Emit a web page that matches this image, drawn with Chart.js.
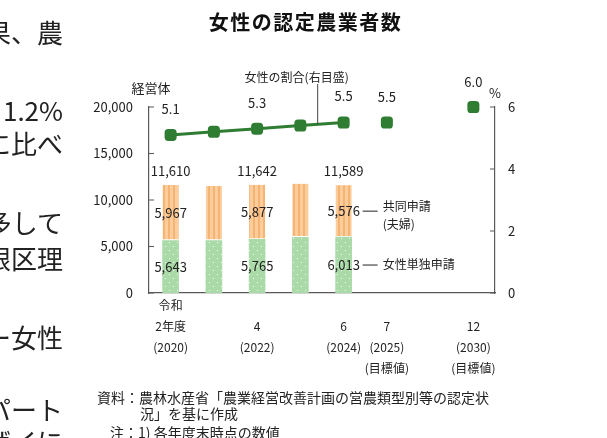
<!DOCTYPE html>
<html lang="ja">
<head>
<meta charset="utf-8">
<title>女性の認定農業者数</title>
<script src="https://cdn.jsdelivr.net/npm/chart.js@4.4.1/dist/chart.umd.min.js"></script>
<style>
  html, body { margin: 0; padding: 0; background: #fff; }
  body { width: 607px; height: 438px; position: relative; overflow: hidden;
         font-family: "Noto Sans CJK JP", "Noto Sans", sans-serif; color: #222; }
  #c { position: absolute; left: 0; top: 0; }
  .title { position: absolute; left: 2px; top: 8px; width: 607px; text-align: center;
           font-size: 20px; font-weight: bold; letter-spacing: 1.5px; line-height: 28px; color: #111; }
  .side { position: absolute; right: 544px; font-size: 26px; line-height: 30px; white-space: nowrap; color: #222; }
  .note { position: absolute; font-size: 14px; line-height: 18px; white-space: nowrap; color: #222; }
</style>
</head>
<body>
<canvas id="c" width="607" height="438"></canvas>
<div class="title">女性の認定農業者数</div>

<div class="side" style="top:17px">果、農</div>
<div class="side" style="top:95px">1.2%</div>
<div class="side" style="top:128px">に比べ</div>
<div class="side" style="top:207px">多して</div>
<div class="side" style="top:243px">限区理</div>
<div class="side" style="top:322px">ー女性</div>
<div class="side" style="top:394px">パート</div>
<div class="side" style="top:426px">ザイに</div>

<div class="note" style="left:97px;top:388px">資料：農林水産省「農業経営改善計画の営農類型別等の認定状</div>
<div class="note" style="left:140px;top:404px">況」を基に作成</div>
<div class="note" style="left:110px;top:423px">注：1) 各年度末時点の数値</div>

<script>
// 年度（令和2年度〜6年度、目標値 7年度・12年度）
const categories = ['2020', '2021', '2022', '2023', '2024', '2025', '', '2030'];
const tickLabels = [
    ['令和', '2年度', '(2020)'], '', ['', '4', '(2022)'], '', ['', '6', '(2024)'],
    ['', '7', '(2025)', '(目標値)'], '', ['', '12', '(2030)', '(目標値)']
];
// 女性単独申請・共同申請(夫婦) 経営体
const soloValues = [5643, 5650, 5765, 5990, 6013, null, null, null];
const jointValues = [5967, 5860, 5877, 5760, 5576, null, null, null];
// 女性の割合 (%) 右目盛
const ratioValues = [5.1, 5.2, 5.3, 5.4, 5.5, null, null, null];
const targetValues = [null, null, null, null, null, 5.5, null, 6.0];
// 数値ラベルを付ける年度
const labeledIdx = [0, 2, 4];
const leftTicks = [0, 5000, 10000, 15000, 20000];
const rightTicks = [0, 2, 4, 6];

const GREEN = '#2E7D32';
const AXIS = '#595959';
const FONT = '"Noto Sans CJK JP", "Noto Sans", sans-serif';

Chart.defaults.font.family = FONT;
Chart.defaults.color = '#222';

const ctx0 = document.getElementById('c').getContext('2d');

function stripePattern() {
    const t = document.createElement('canvas');
    t.width = 5; t.height = 5;
    const g = t.getContext('2d');
    g.fillStyle = '#FBCD9C';
    g.fillRect(0, 0, 5, 5);
    g.fillStyle = '#F6B473';
    g.fillRect(3, 0, 2, 5);
    return ctx0.createPattern(t, 'repeat');
}

function dotPattern() {
    const t = document.createElement('canvas');
    t.width = 8; t.height = 8;
    const g = t.getContext('2d');
    g.fillStyle = '#A9DAA8';
    g.fillRect(0, 0, 8, 8);
    g.fillStyle = '#F4FBF3';
    g.fillRect(1, 2, 1, 1);
    g.fillRect(5, 6, 1, 1);
    return ctx0.createPattern(t, 'repeat');
}

function fmt(v) {
    return v.toLocaleString('en-US');
}

function text(ctx, s, x, y, size, align) {
    ctx.font = size + 'px ' + FONT;
    ctx.textAlign = align || 'center';
    ctx.textBaseline = 'middle';
    ctx.fillText(s, x, y);
}

const labelPlugin = {
    id: 'labels',
    afterDraw(chart) {
        const ctx = chart.ctx;
        const area = chart.chartArea;
        const solo = chart.getDatasetMeta(0).data;
        const joint = chart.getDatasetMeta(1).data;
        const line = chart.getDatasetMeta(2).data;
        const target = chart.getDatasetMeta(3).data;
        const yL = chart.scales.y;
        const yR = chart.scales.y2;
        ctx.save();
        ctx.fillStyle = '#222';

        // inward tick marks
        ctx.strokeStyle = AXIS;
        ctx.lineWidth = 1.2;
        ctx.beginPath();
        leftTicks.forEach(v => {
            const y = yL.getPixelForValue(v);
            ctx.moveTo(area.left, y); ctx.lineTo(area.left + 5, y);
        });
        rightTicks.forEach(v => {
            const y = yR.getPixelForValue(v);
            ctx.moveTo(area.right, y); ctx.lineTo(area.right - 5, y);
        });
        ctx.stroke();

        // axis titles
        text(ctx, '経営体', area.left + 2, area.top - 19, 13);
        text(ctx, '%', area.right, area.top - 14, 13);

        // bar labels
        labeledIdx.forEach(i => {
            const s = solo[i], j = joint[i];
            text(ctx, fmt(soloValues[i] + jointValues[i]), j.x, j.y - 14, 13);
            text(ctx, fmt(jointValues[i]), j.x, (j.y + j.base) / 2, 13);
            text(ctx, fmt(soloValues[i]), s.x, (s.y + s.base) / 2, 13);
            text(ctx, ratioValues[i].toFixed(1), line[i].x, line[i].y - 26, 13);
        });
        targetValues.forEach((v, i) => {
            if (v == null) return;
            text(ctx, v.toFixed(1), target[i].x, target[i].y - 25, 13);
        });

        // leader for the ratio line
        const p3 = line[3], p4 = line[4];
        const lx = p3.x + (p4.x - p3.x) * 0.4;
        const ly = p3.y + (p4.y - p3.y) * 0.4;
        ctx.strokeStyle = '#444';
        ctx.lineWidth = 1;
        ctx.beginPath();
        ctx.moveTo(lx, area.top - 23);
        ctx.lineTo(lx, ly);
        ctx.stroke();
        text(ctx, '女性の割合(右目盛)', lx - 21, area.top - 30, 12);

        // segment legends beside the last labeled bar
        const k = labeledIdx[labeledIdx.length - 1];
        const jb = joint[k], sb = solo[k];
        const jm = (jb.y + jb.base) / 2, sm = (sb.y + sb.base) / 2;
        ctx.strokeStyle = '#222';
        ctx.beginPath();
        ctx.moveTo(jb.x + 19, jm); ctx.lineTo(jb.x + 34, jm);
        ctx.moveTo(sb.x + 19, sm); ctx.lineTo(sb.x + 34, sm);
        ctx.stroke();
        text(ctx, '共同申請', jb.x + 39, jm - 5, 12, 'left');
        text(ctx, '(夫婦)', jb.x + 39, jm + 13, 12, 'left');
        text(ctx, '女性単独申請', sb.x + 39, sm - 1, 12, 'left');

        ctx.restore();
    }
};

new Chart(ctx0, {
    type: 'bar',
    data: {
        labels: categories,
        datasets: [
            {
                label: '女性単独申請',
                data: soloValues,
                backgroundColor: dotPattern(),
                borderWidth: 0,
                barThickness: 16,
                stack: 'a',
                order: 1
            },
            {
                label: '共同申請(夫婦)',
                data: jointValues,
                backgroundColor: stripePattern(),
                borderColor: '#fff',
                borderWidth: { top: 0, left: 0, right: 0, bottom: 1.5 },
                borderSkipped: false,
                barThickness: 16,
                stack: 'a',
                order: 1
            },
            {
                type: 'line',
                label: '女性の割合',
                data: ratioValues,
                yAxisID: 'y2',
                borderColor: GREEN,
                borderWidth: 3,
                backgroundColor: GREEN,
                pointStyle: 'rectRounded',
                pointRadius: 7,
                pointBackgroundColor: GREEN,
                pointBorderWidth: 0,
                spanGaps: false,
                clip: false,
                order: 0
            },
            {
                type: 'line',
                label: '目標値',
                data: targetValues,
                yAxisID: 'y2',
                showLine: false,
                pointStyle: 'rectRounded',
                pointRadius: 7,
                pointBackgroundColor: GREEN,
                pointBorderWidth: 0,
                clip: false,
                order: 0
            }
        ]
    },
    options: {
        responsive: false,
        animation: false,
        layout: { padding: { top: 107, left: 0, right: 0, bottom: 0 } },
        plugins: {
            legend: { display: false },
            tooltip: { enabled: false }
        },
        scales: {
            x: {
                stacked: true,
                grid: { display: false, drawTicks: false },
                border: { display: true, color: AXIS, width: 1.2 },
                ticks: {
                    autoSkip: false,
                    maxRotation: 0,
                    padding: 2,
                    color: '#222',
                    font: { size: 12, lineHeight: '21px' },
                    callback: (v, i) => tickLabels[i]
                },
                afterFit: s => { s.height = 145; }
            },
            y: {
                stacked: true,
                min: 0,
                max: 20000,
                grid: { display: false, drawTicks: false },
                border: { display: true, color: AXIS, width: 1.2 },
                ticks: {
                    stepSize: 5000,
                    padding: 16,
                    color: '#222',
                    font: { size: 13 },
                    callback: v => fmt(v)
                },
                afterFit: s => { s.width = 149; }
            },
            y2: {
                position: 'right',
                min: 0,
                max: 6,
                grid: { display: false, drawTicks: false },
                border: { display: true, color: AXIS, width: 1.2 },
                ticks: {
                    stepSize: 2,
                    padding: 13,
                    color: '#222',
                    font: { size: 13 }
                },
                afterFit: s => { s.width = 112; }
            }
        }
    },
    plugins: [labelPlugin]
});
</script>
</body>
</html>
